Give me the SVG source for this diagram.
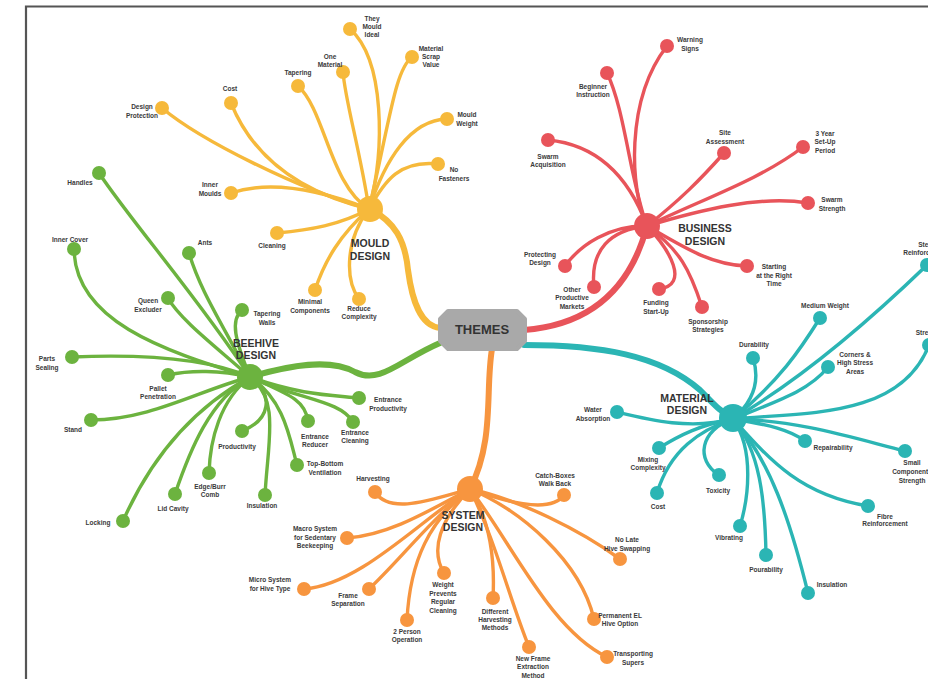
<svg xmlns="http://www.w3.org/2000/svg" width="928" height="679" viewBox="0 0 928 679">
<style>
.t{font-family:"Liberation Sans",Arial,sans-serif;font-size:6.5px;font-weight:bold;fill:#3a3a3a;text-anchor:middle}
.h{font-family:"Liberation Sans",Arial,sans-serif;font-size:10.5px;font-weight:bold;fill:#333;text-anchor:middle}
.l{fill:none;stroke-linecap:round;stroke-width:3.4}
.b{fill:none;stroke-linecap:round;stroke-width:6}
.M{stroke:#f6b93b}.B{stroke:#e8545a}.G{stroke:#6cb33f}.T{stroke:#2bb5b4}.O{stroke:#f7953f}
.fM{fill:#f6b93b}.fB{fill:#e8545a}.fG{fill:#6cb33f}.fT{fill:#2bb5b4}.fO{fill:#f7953f}
</style>
<rect width="928" height="679" fill="#fff"/>
<path d="M26,679 V6.5 H928" fill="none" stroke="#555" stroke-width="2.2"/>
<g id="connectors">
<path class="b M" d="M440,328 C420,326 412,300 408,270 C405,240 395,222 370,209"/>
<path class="b B" d="M524,330 C590,325 630,290 647,226"/>
<path class="b G" d="M440,343 C400,360 380,385 355,372 C330,358 290,365 250,377"/>
<path class="b T" d="M524,345 C600,345 660,355 700,390 C712,402 720,412 733,418"/>
<path class="b O" d="M492,349 C485,390 495,440 470,489"/>
<path class="l M" d="M369,209 C385,150 385,60 350,29"/>
<path class="l M" d="M369,209 C390,120 395,70 412,57"/>
<path class="l M" d="M369,209 C360,150 345,100 343,72"/>
<path class="l M" d="M369,209 C330,185 325,110 298,86"/>
<path class="l M" d="M369,209 C290,190 250,150 231,103"/>
<path class="l M" d="M369,209 C300,190 200,140 162,108"/>
<path class="l M" d="M369,209 C385,160 410,120 447,119"/>
<path class="l M" d="M369,209 C385,180 400,160 438,164"/>
<path class="l M" d="M369,209 C320,190 270,180 231,193"/>
<path class="l M" d="M369,209 C340,225 310,230 277,233"/>
<path class="l M" d="M369,209 C340,235 325,260 315,290"/>
<path class="l M" d="M369,209 C345,240 345,280 359,299"/>
<path class="l B" d="M647,226 C630,190 625,100 667,46"/>
<path class="l B" d="M647,226 C630,180 625,110 607,73"/>
<path class="l B" d="M647,226 C630,180 600,145 548,140"/>
<path class="l B" d="M647,226 C680,200 700,180 724,153"/>
<path class="l B" d="M647,226 C700,200 760,180 803,147"/>
<path class="l B" d="M647,226 C700,210 760,195 808,203"/>
<path class="l B" d="M647,226 C610,225 580,245 565,266"/>
<path class="l B" d="M647,226 C610,230 590,250 594,287"/>
<path class="l B" d="M647,226 C670,250 690,285 659,289"/>
<path class="l B" d="M647,226 C680,250 690,270 702,307"/>
<path class="l B" d="M647,226 C680,245 710,265 747,266"/>
<path class="l G" d="M250,377 C200,300 130,220 99,173"/>
<path class="l G" d="M250,377 C160,350 75,320 74,249"/>
<path class="l G" d="M250,377 C220,320 200,290 189,253"/>
<path class="l G" d="M250,377 C220,350 180,320 168,298"/>
<path class="l G" d="M250,377 C235,340 230,320 242,310"/>
<path class="l G" d="M250,377 C200,355 120,355 72,357"/>
<path class="l G" d="M250,377 C220,370 190,370 168,375"/>
<path class="l G" d="M250,377 C200,390 150,420 91,420"/>
<path class="l G" d="M250,377 C190,410 150,460 123,521"/>
<path class="l G" d="M250,377 C210,400 190,450 175,494"/>
<path class="l G" d="M250,377 C220,400 210,440 209,473"/>
<path class="l G" d="M250,377 C275,395 270,420 242,431"/>
<path class="l G" d="M250,377 C280,400 268,440 265,495"/>
<path class="l G" d="M250,377 C285,400 290,440 297,465"/>
<path class="l G" d="M250,377 C290,395 305,400 308,421"/>
<path class="l G" d="M250,377 C300,400 340,400 353,422"/>
<path class="l G" d="M250,377 C300,395 330,395 359,398"/>
<path class="l T" d="M733,419 C800,380 870,320 927,265"/>
<path class="l T" d="M733,419 C780,380 800,350 820,318"/>
<path class="l T" d="M733,419 C755,400 760,380 753,358"/>
<path class="l T" d="M733,419 C780,400 810,390 828,367"/>
<path class="l T" d="M733,419 C800,412 900,420 929,345"/>
<path class="l T" d="M733,419 C770,425 790,430 805,441"/>
<path class="l T" d="M733,419 C800,420 860,440 905,451"/>
<path class="l T" d="M733,419 C770,460 800,495 868,506"/>
<path class="l T" d="M733,419 C770,460 790,520 808,593"/>
<path class="l T" d="M733,419 C760,450 765,500 766,555"/>
<path class="l T" d="M733,419 C755,450 748,500 740,526"/>
<path class="l T" d="M733,419 C700,430 695,460 719,475"/>
<path class="l T" d="M733,419 C700,430 670,450 657,493"/>
<path class="l T" d="M733,419 C700,425 680,435 659,448"/>
<path class="l T" d="M733,419 C690,430 650,420 617,412"/>
<path class="l O" d="M470,489 C430,500 390,515 375,492"/>
<path class="l O" d="M470,489 C430,510 390,535 347,538"/>
<path class="l O" d="M470,489 C420,520 360,585 304,589"/>
<path class="l O" d="M470,489 C430,520 400,560 369,589"/>
<path class="l O" d="M470,489 C430,520 410,560 407,620"/>
<path class="l O" d="M470,489 C440,520 430,550 444,573"/>
<path class="l O" d="M470,489 C500,500 550,515 564,495"/>
<path class="l O" d="M470,489 C520,500 580,530 620,559"/>
<path class="l O" d="M470,489 C490,520 495,560 493,598"/>
<path class="l O" d="M470,489 C520,510 580,560 594,619"/>
<path class="l O" d="M470,489 C495,540 510,600 529,647"/>
<path class="l O" d="M470,489 C510,540 550,630 607,657"/>
</g>
<g id="themes">
<path d="M448,311 H517 L525,319 V341 L517,349 H448 L440,341 V319 Z" fill="#a9a9a9" stroke="#a9a9a9" stroke-width="4" stroke-linejoin="round"/>
<text x="482" y="334" class="h" style="font-size:13px">THEMES</text>
</g>
<g id="mould-design"><circle cx="370" cy="209" r="13" class="fM"/><text class="h" x="370" y="247">MOULD</text><text class="h" x="370" y="260">DESIGN</text></g>
<g id="m-ideal"><circle cx="350" cy="29" r="7" class="fM"/><text class="t" x="372" y="21">They</text><text class="t" x="372" y="29">Mould</text><text class="t" x="372" y="37">Ideal</text></g>
<g id="m-scrap"><circle cx="412" cy="57" r="7" class="fM"/><text class="t" x="431" y="51">Material</text><text class="t" x="431" y="59">Scrap</text><text class="t" x="431" y="67">Value</text></g>
<g id="m-one"><circle cx="343" cy="72" r="7" class="fM"/><text class="t" x="330" y="59">One</text><text class="t" x="330" y="67">Material</text></g>
<g id="m-tapering"><circle cx="298" cy="86" r="7" class="fM"/><text class="t" x="298" y="75">Tapering</text></g>
<g id="m-cost"><circle cx="231" cy="103" r="7" class="fM"/><text class="t" x="230" y="91">Cost</text></g>
<g id="m-protection"><circle cx="162" cy="108" r="7" class="fM"/><text class="t" x="142" y="109">Design</text><text class="t" x="142" y="118">Protection</text></g>
<g id="m-weight"><circle cx="447" cy="119" r="7" class="fM"/><text class="t" x="467" y="117">Mould</text><text class="t" x="467" y="126">Weight</text></g>
<g id="m-fasteners"><circle cx="438" cy="164" r="7" class="fM"/><text class="t" x="454" y="172">No</text><text class="t" x="454" y="181">Fasteners</text></g>
<g id="m-inner"><circle cx="231" cy="193" r="7" class="fM"/><text class="t" x="210" y="187">Inner</text><text class="t" x="210" y="196">Moulds</text></g>
<g id="m-cleaning"><circle cx="277" cy="233" r="7" class="fM"/><text class="t" x="272" y="248">Cleaning</text></g>
<g id="m-minimal"><circle cx="315" cy="290" r="7" class="fM"/><text class="t" x="310" y="304">Minimal</text><text class="t" x="310" y="313">Components</text></g>
<g id="m-reduce"><circle cx="359" cy="299" r="7" class="fM"/><text class="t" x="359" y="311">Reduce</text><text class="t" x="359" y="319">Complexity</text></g>
<g id="business-design"><circle cx="647" cy="226" r="13" class="fB"/><text class="h" x="705" y="232">BUSINESS</text><text class="h" x="705" y="245">DESIGN</text></g>
<g id="b-warning"><circle cx="667" cy="46" r="7" class="fB"/><text class="t" x="690" y="42">Warning</text><text class="t" x="690" y="51">Signs</text></g>
<g id="b-beginner"><circle cx="607" cy="73" r="7" class="fB"/><text class="t" x="593" y="89">Beginner</text><text class="t" x="593" y="97">Instruction</text></g>
<g id="b-swarm-acq"><circle cx="548" cy="140" r="7" class="fB"/><text class="t" x="548" y="159">Swarm</text><text class="t" x="548" y="167">Acquisition</text></g>
<g id="b-site"><circle cx="724" cy="153" r="7" class="fB"/><text class="t" x="725" y="135">Site</text><text class="t" x="725" y="144">Assessment</text></g>
<g id="b-3year"><circle cx="803" cy="147" r="7" class="fB"/><text class="t" x="825" y="136">3 Year</text><text class="t" x="825" y="144">Set-Up</text><text class="t" x="825" y="153">Period</text></g>
<g id="b-swarm-str"><circle cx="808" cy="203" r="7" class="fB"/><text class="t" x="832" y="202">Swarm</text><text class="t" x="832" y="211">Strength</text></g>
<g id="b-protecting"><circle cx="565" cy="266" r="7" class="fB"/><text class="t" x="540" y="257">Protecting</text><text class="t" x="540" y="265">Design</text></g>
<g id="b-other"><circle cx="594" cy="287" r="7" class="fB"/><text class="t" x="572" y="292">Other</text><text class="t" x="572" y="300">Productive</text><text class="t" x="572" y="309">Markets</text></g>
<g id="b-funding"><circle cx="659" cy="289" r="7" class="fB"/><text class="t" x="656" y="305">Funding</text><text class="t" x="656" y="314">Start-Up</text></g>
<g id="b-sponsorship"><circle cx="702" cy="307" r="7" class="fB"/><text class="t" x="708" y="324">Sponsorship</text><text class="t" x="708" y="332">Strategies</text></g>
<g id="b-starting"><circle cx="747" cy="266" r="7" class="fB"/><text class="t" x="774" y="269">Starting</text><text class="t" x="774" y="278">at the Right</text><text class="t" x="774" y="286">Time</text></g>
<g id="beehive-design"><circle cx="250" cy="377" r="13" class="fG"/><text class="h" x="256" y="347">BEEHIVE</text><text class="h" x="256" y="359">DESIGN</text></g>
<g id="g-handles"><circle cx="99" cy="173" r="7" class="fG"/><text class="t" x="80" y="185">Handles</text></g>
<g id="g-inner"><circle cx="74" cy="249" r="7" class="fG"/><text class="t" x="70" y="242">Inner Cover</text></g>
<g id="g-ants"><circle cx="189" cy="253" r="7" class="fG"/><text class="t" x="205" y="245">Ants</text></g>
<g id="g-queen"><circle cx="168" cy="298" r="7" class="fG"/><text class="t" x="148" y="303">Queen</text><text class="t" x="148" y="312">Excluder</text></g>
<g id="g-tapering"><circle cx="242" cy="310" r="7" class="fG"/><text class="t" x="267" y="316">Tapering</text><text class="t" x="267" y="325">Walls</text></g>
<g id="g-parts"><circle cx="72" cy="357" r="7" class="fG"/><text class="t" x="47" y="361">Parts</text><text class="t" x="47" y="370">Sealing</text></g>
<g id="g-pallet"><circle cx="168" cy="375" r="7" class="fG"/><text class="t" x="158" y="391">Pallet</text><text class="t" x="158" y="399">Penetration</text></g>
<g id="g-stand"><circle cx="91" cy="420" r="7" class="fG"/><text class="t" x="73" y="432">Stand</text></g>
<g id="g-productivity"><circle cx="242" cy="431" r="7" class="fG"/><text class="t" x="237" y="449">Productivity</text></g>
<g id="g-reducer"><circle cx="308" cy="421" r="7" class="fG"/><text class="t" x="315" y="439">Entrance</text><text class="t" x="315" y="447">Reducer</text></g>
<g id="g-ent-cleaning"><circle cx="353" cy="422" r="7" class="fG"/><text class="t" x="355" y="435">Entrance</text><text class="t" x="355" y="443">Cleaning</text></g>
<g id="g-ent-prod"><circle cx="359" cy="398" r="7" class="fG"/><text class="t" x="388" y="402">Entrance</text><text class="t" x="388" y="411">Productivity</text></g>
<g id="g-topbottom"><circle cx="297" cy="465" r="7" class="fG"/><text class="t" x="325" y="466">Top-Bottom</text><text class="t" x="325" y="475">Ventilation</text></g>
<g id="g-insulation"><circle cx="265" cy="495" r="7" class="fG"/><text class="t" x="262" y="508">Insulation</text></g>
<g id="g-edge"><circle cx="209" cy="473" r="7" class="fG"/><text class="t" x="210" y="489">Edge/Burr</text><text class="t" x="210" y="497">Comb</text></g>
<g id="g-lid"><circle cx="175" cy="494" r="7" class="fG"/><text class="t" x="173" y="511">Lid Cavity</text></g>
<g id="g-locking"><circle cx="123" cy="521" r="7" class="fG"/><text class="t" x="98" y="525">Locking</text></g>
<g id="material-design"><circle cx="733" cy="418" r="14" class="fT"/><text class="h" x="687" y="402">MATERIAL</text><text class="h" x="687" y="414">DESIGN</text></g>
<g id="t-steel"><circle cx="927" cy="265" r="7" class="fT"/><text class="t" x="926" y="247">Steel</text><text class="t" x="926" y="255">Reinforcement</text></g>
<g id="t-strength"><circle cx="929" cy="345" r="7" class="fT"/><text class="t" x="929" y="335">Strength</text></g>
<g id="t-medium"><circle cx="820" cy="318" r="7" class="fT"/><text class="t" x="825" y="308">Medium Weight</text></g>
<g id="t-durability"><circle cx="753" cy="358" r="7" class="fT"/><text class="t" x="754" y="347">Durability</text></g>
<g id="t-corners"><circle cx="828" cy="367" r="7" class="fT"/><text class="t" x="855" y="357">Corners &amp;</text><text class="t" x="855" y="365">High Stress</text><text class="t" x="855" y="374">Areas</text></g>
<g id="t-water"><circle cx="617" cy="412" r="7" class="fT"/><text class="t" x="593" y="412">Water</text><text class="t" x="593" y="421">Absorption</text></g>
<g id="t-mixing"><circle cx="659" cy="448" r="7" class="fT"/><text class="t" x="648" y="462">Mixing</text><text class="t" x="648" y="470">Complexity</text></g>
<g id="t-cost"><circle cx="657" cy="493" r="7" class="fT"/><text class="t" x="658" y="509">Cost</text></g>
<g id="t-toxicity"><circle cx="719" cy="475" r="7" class="fT"/><text class="t" x="718" y="493">Toxicity</text></g>
<g id="t-repair"><circle cx="805" cy="441" r="7" class="fT"/><text class="t" x="833" y="450">Repairability</text></g>
<g id="t-small"><circle cx="905" cy="451" r="7" class="fT"/><text class="t" x="912" y="465">Small</text><text class="t" x="912" y="474">Components</text><text class="t" x="912" y="483">Strength</text></g>
<g id="t-fibre"><circle cx="868" cy="506" r="7" class="fT"/><text class="t" x="885" y="519">Fibre</text><text class="t" x="885" y="526">Reinforcement</text></g>
<g id="t-vibrating"><circle cx="740" cy="526" r="7" class="fT"/><text class="t" x="729" y="540">Vibrating</text></g>
<g id="t-pour"><circle cx="766" cy="555" r="7" class="fT"/><text class="t" x="766" y="572">Pourability</text></g>
<g id="t-insulation"><circle cx="808" cy="593" r="7" class="fT"/><text class="t" x="832" y="587">Insulation</text></g>
<g id="system-design"><circle cx="470" cy="489" r="13" class="fO"/><text class="h" x="463" y="519">SYSTEM</text><text class="h" x="463" y="531">DESIGN</text></g>
<g id="o-harvesting"><circle cx="375" cy="492" r="7" class="fO"/><text class="t" x="373" y="481">Harvesting</text></g>
<g id="o-macro"><circle cx="347" cy="538" r="7" class="fO"/><text class="t" x="315" y="531">Macro System</text><text class="t" x="315" y="540">for Sedentary</text><text class="t" x="315" y="548">Beekeeping</text></g>
<g id="o-micro"><circle cx="304" cy="589" r="7" class="fO"/><text class="t" x="270" y="582">Micro System</text><text class="t" x="270" y="591">for Hive Type</text></g>
<g id="o-frame"><circle cx="369" cy="589" r="7" class="fO"/><text class="t" x="348" y="598">Frame</text><text class="t" x="348" y="606">Separation</text></g>
<g id="o-2person"><circle cx="407" cy="620" r="7" class="fO"/><text class="t" x="407" y="634">2 Person</text><text class="t" x="407" y="642">Operation</text></g>
<g id="o-weight"><circle cx="444" cy="573" r="7" class="fO"/><text class="t" x="443" y="587">Weight</text><text class="t" x="443" y="596">Prevents</text><text class="t" x="443" y="604">Regular</text><text class="t" x="443" y="613">Cleaning</text></g>
<g id="o-catch"><circle cx="564" cy="495" r="7" class="fO"/><text class="t" x="555" y="478">Catch-Boxes</text><text class="t" x="555" y="486">Walk Back</text></g>
<g id="o-nolate"><circle cx="620" cy="559" r="7" class="fO"/><text class="t" x="627" y="542">No Late</text><text class="t" x="627" y="551">Hive Swapping</text></g>
<g id="o-different"><circle cx="493" cy="598" r="7" class="fO"/><text class="t" x="495" y="614">Different</text><text class="t" x="495" y="622">Harvesting</text><text class="t" x="495" y="630">Methods</text></g>
<g id="o-permanent"><circle cx="594" cy="619" r="7" class="fO"/><text class="t" x="620" y="618">Permanent EL</text><text class="t" x="620" y="626">Hive Option</text></g>
<g id="o-newframe"><circle cx="529" cy="647" r="7" class="fO"/><text class="t" x="533" y="661">New Frame</text><text class="t" x="533" y="669">Extraction</text><text class="t" x="533" y="678">Method</text></g>
<g id="o-transport"><circle cx="607" cy="657" r="7" class="fO"/><text class="t" x="633" y="656">Transporting</text><text class="t" x="633" y="665">Supers</text></g>
</svg>
